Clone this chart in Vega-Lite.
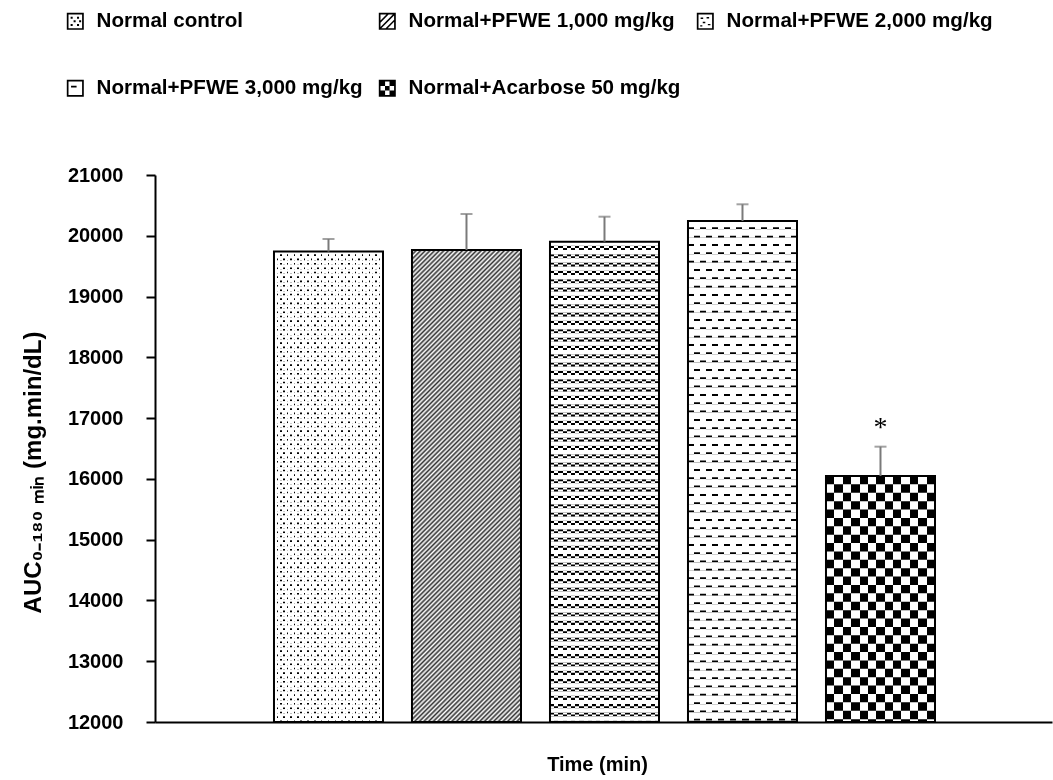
{
  "$schema": "https://vega.github.io/schema/vega-lite/v6.json",
  "autosize": {"type": "none"},
  "width": 897,
  "height": 547,
  "padding": {"left": 155, "top": 175, "right": 1, "bottom": 58},
  "background": "white",
  "config": {"view": {"stroke": null}, "font": "Liberation Sans"},
  "data": {"values": [
    {"group": "Normal control", "value": 19740, "upper": 19947},
    {"group": "Normal+PFWE 1,000 mg/kg", "value": 19766, "upper": 20358},
    {"group": "Normal+PFWE 2,000 mg/kg", "value": 19903, "upper": 20314},
    {"group": "Normal+PFWE 3,000 mg/kg", "value": 20243, "upper": 20518},
    {"group": "Normal+Acarbose 50 mg/kg", "value": 16048, "upper": 16530, "star": "*"}
  ]},
  "encoding": {
    "x": {"field": "group", "type": "nominal",
      "scale": {"domain": ["Normal control", "Normal+PFWE 1,000 mg/kg", "Normal+PFWE 2,000 mg/kg", "Normal+PFWE 3,000 mg/kg", "Normal+Acarbose 50 mg/kg"], "paddingInner": 0.21, "paddingOuter": 0.855, "align": 0.5042},
      "axis": {"labels": false, "ticks": false, "domainColor": "#000", "domainWidth": 2, "title": "Time (min)", "titleFont": "Liberation Sans", "titleFontSize": 20, "titleFontWeight": "bold", "titleColor": "#000", "titlePadding": 32, "titleX": 442}},
    "y": {"field": "value", "type": "quantitative",
      "scale": {"domain": [12000, 21000], "nice": false, "zero": false},
      "axis": {"values": [12000, 13000, 14000, 15000, 16000, 17000, 18000, 19000, 20000, 21000], "format": "d", "grid": false, "domainColor": "#000", "domainWidth": 2, "tickColor": "#000", "tickWidth": 2, "tickSize": 9, "labelPadding": 23, "labelFont": "Liberation Sans", "labelFontSize": 20, "labelFontWeight": "bold", "labelColor": "#000", "title": "AUC₀₋₁₈₀ ₘᵢₙ (mg.min/dL)", "titleFont": "Liberation Sans", "titleFontSize": 24, "titleFontWeight": "bold", "titleColor": "#000", "titleAngle": -90, "titleX": -122, "titleY": 297, "titleAlign": "center", "titleBaseline": "middle"}}
  },
  "layer": [
    {"transform": [{"filter": "datum.group === 'Normal control'"}],
     "mark": {"type": "bar", "stroke": null, "fill": {"gradient": "linear", "x1": 0, "y1": 0, "x2": 1, "y2": 0, "stops": [
       {"offset": 0, "color": "#fff"}, {"offset": 0.0239, "color": "#fff"}, {"offset": 0.0239, "color": "#000"}, {"offset": 0.0377, "color": "#000"}, {"offset": 0.0377, "color": "#fff"},
       {"offset": 0.0864, "color": "#fff"}, {"offset": 0.0864, "color": "#000"}, {"offset": 0.1002, "color": "#000"}, {"offset": 0.1002, "color": "#fff"},
       {"offset": 0.1489, "color": "#fff"}, {"offset": 0.1489, "color": "#000"}, {"offset": 0.1627, "color": "#000"}, {"offset": 0.1627, "color": "#fff"},
       {"offset": 0.2114, "color": "#fff"}, {"offset": 0.2114, "color": "#000"}, {"offset": 0.2252, "color": "#000"}, {"offset": 0.2252, "color": "#fff"},
       {"offset": 0.2739, "color": "#fff"}, {"offset": 0.2739, "color": "#000"}, {"offset": 0.2877, "color": "#000"}, {"offset": 0.2877, "color": "#fff"},
       {"offset": 0.3364, "color": "#fff"}, {"offset": 0.3364, "color": "#000"}, {"offset": 0.3502, "color": "#000"}, {"offset": 0.3502, "color": "#fff"},
       {"offset": 0.3989, "color": "#fff"}, {"offset": 0.3989, "color": "#000"}, {"offset": 0.4127, "color": "#000"}, {"offset": 0.4127, "color": "#fff"},
       {"offset": 0.4614, "color": "#fff"}, {"offset": 0.4614, "color": "#000"}, {"offset": 0.4752, "color": "#000"}, {"offset": 0.4752, "color": "#fff"},
       {"offset": 0.5239, "color": "#fff"}, {"offset": 0.5239, "color": "#000"}, {"offset": 0.5377, "color": "#000"}, {"offset": 0.5377, "color": "#fff"},
       {"offset": 0.5864, "color": "#fff"}, {"offset": 0.5864, "color": "#000"}, {"offset": 0.6002, "color": "#000"}, {"offset": 0.6002, "color": "#fff"},
       {"offset": 0.6489, "color": "#fff"}, {"offset": 0.6489, "color": "#000"}, {"offset": 0.6627, "color": "#000"}, {"offset": 0.6627, "color": "#fff"},
       {"offset": 0.7114, "color": "#fff"}, {"offset": 0.7114, "color": "#000"}, {"offset": 0.7252, "color": "#000"}, {"offset": 0.7252, "color": "#fff"},
       {"offset": 0.7739, "color": "#fff"}, {"offset": 0.7739, "color": "#000"}, {"offset": 0.7877, "color": "#000"}, {"offset": 0.7877, "color": "#fff"},
       {"offset": 0.8364, "color": "#fff"}, {"offset": 0.8364, "color": "#000"}, {"offset": 0.8502, "color": "#000"}, {"offset": 0.8502, "color": "#fff"},
       {"offset": 0.8989, "color": "#fff"}, {"offset": 0.8989, "color": "#000"}, {"offset": 0.9127, "color": "#000"}, {"offset": 0.9127, "color": "#fff"},
       {"offset": 0.9614, "color": "#fff"}, {"offset": 0.9614, "color": "#000"}, {"offset": 0.9752, "color": "#000"}, {"offset": 0.9752, "color": "#fff"},
       {"offset": 1, "color": "#fff"}]}},
     "encoding": {"y2": {"datum": 12000}}},
    {"transform": [{"filter": "datum.group === 'Normal control'"}],
     "mark": {"type": "rule", "color": "#fff", "strokeWidth": 109, "strokeDash": [4.4, 4.4], "blend": "difference"},
     "encoding": {"y2": {"datum": 12000}}},
    {"transform": [{"filter": "datum.group === 'Normal control'"}],
     "mark": {"type": "rule", "color": "#fff", "strokeWidth": 109, "strokeDash": [2.6, 1.8]},
     "encoding": {"y2": {"datum": 12000}}},
    {"transform": [{"filter": "datum.group === 'Normal control'"}],
     "mark": {"type": "bar", "stroke": null, "fill": {"gradient": "linear", "x1": 0, "y1": 0, "x2": 1, "y2": 0, "stops": [
       {"offset": 0, "color": "#fff"}, {"offset": 0.0239, "color": "#fff"}, {"offset": 0.0239, "color": "rgba(255,255,255,0)"}, {"offset": 0.0377, "color": "rgba(255,255,255,0)"}, {"offset": 0.0377, "color": "#fff"},
       {"offset": 0.0552, "color": "#fff"}, {"offset": 0.0552, "color": "rgba(255,255,255,0)"}, {"offset": 0.069, "color": "rgba(255,255,255,0)"}, {"offset": 0.069, "color": "#fff"},
       {"offset": 0.0864, "color": "#fff"}, {"offset": 0.0864, "color": "rgba(255,255,255,0)"}, {"offset": 0.1002, "color": "rgba(255,255,255,0)"}, {"offset": 0.1002, "color": "#fff"},
       {"offset": 0.1177, "color": "#fff"}, {"offset": 0.1177, "color": "rgba(255,255,255,0)"}, {"offset": 0.1315, "color": "rgba(255,255,255,0)"}, {"offset": 0.1315, "color": "#fff"},
       {"offset": 0.1489, "color": "#fff"}, {"offset": 0.1489, "color": "rgba(255,255,255,0)"}, {"offset": 0.1627, "color": "rgba(255,255,255,0)"}, {"offset": 0.1627, "color": "#fff"},
       {"offset": 0.1802, "color": "#fff"}, {"offset": 0.1802, "color": "rgba(255,255,255,0)"}, {"offset": 0.194, "color": "rgba(255,255,255,0)"}, {"offset": 0.194, "color": "#fff"},
       {"offset": 0.2114, "color": "#fff"}, {"offset": 0.2114, "color": "rgba(255,255,255,0)"}, {"offset": 0.2252, "color": "rgba(255,255,255,0)"}, {"offset": 0.2252, "color": "#fff"},
       {"offset": 0.2427, "color": "#fff"}, {"offset": 0.2427, "color": "rgba(255,255,255,0)"}, {"offset": 0.2565, "color": "rgba(255,255,255,0)"}, {"offset": 0.2565, "color": "#fff"},
       {"offset": 0.2739, "color": "#fff"}, {"offset": 0.2739, "color": "rgba(255,255,255,0)"}, {"offset": 0.2877, "color": "rgba(255,255,255,0)"}, {"offset": 0.2877, "color": "#fff"},
       {"offset": 0.3052, "color": "#fff"}, {"offset": 0.3052, "color": "rgba(255,255,255,0)"}, {"offset": 0.319, "color": "rgba(255,255,255,0)"}, {"offset": 0.319, "color": "#fff"},
       {"offset": 0.3364, "color": "#fff"}, {"offset": 0.3364, "color": "rgba(255,255,255,0)"}, {"offset": 0.3502, "color": "rgba(255,255,255,0)"}, {"offset": 0.3502, "color": "#fff"},
       {"offset": 0.3677, "color": "#fff"}, {"offset": 0.3677, "color": "rgba(255,255,255,0)"}, {"offset": 0.3815, "color": "rgba(255,255,255,0)"}, {"offset": 0.3815, "color": "#fff"},
       {"offset": 0.3989, "color": "#fff"}, {"offset": 0.3989, "color": "rgba(255,255,255,0)"}, {"offset": 0.4127, "color": "rgba(255,255,255,0)"}, {"offset": 0.4127, "color": "#fff"},
       {"offset": 0.4302, "color": "#fff"}, {"offset": 0.4302, "color": "rgba(255,255,255,0)"}, {"offset": 0.444, "color": "rgba(255,255,255,0)"}, {"offset": 0.444, "color": "#fff"},
       {"offset": 0.4614, "color": "#fff"}, {"offset": 0.4614, "color": "rgba(255,255,255,0)"}, {"offset": 0.4752, "color": "rgba(255,255,255,0)"}, {"offset": 0.4752, "color": "#fff"},
       {"offset": 0.4927, "color": "#fff"}, {"offset": 0.4927, "color": "rgba(255,255,255,0)"}, {"offset": 0.5065, "color": "rgba(255,255,255,0)"}, {"offset": 0.5065, "color": "#fff"},
       {"offset": 0.5239, "color": "#fff"}, {"offset": 0.5239, "color": "rgba(255,255,255,0)"}, {"offset": 0.5377, "color": "rgba(255,255,255,0)"}, {"offset": 0.5377, "color": "#fff"},
       {"offset": 0.5552, "color": "#fff"}, {"offset": 0.5552, "color": "rgba(255,255,255,0)"}, {"offset": 0.569, "color": "rgba(255,255,255,0)"}, {"offset": 0.569, "color": "#fff"},
       {"offset": 0.5864, "color": "#fff"}, {"offset": 0.5864, "color": "rgba(255,255,255,0)"}, {"offset": 0.6002, "color": "rgba(255,255,255,0)"}, {"offset": 0.6002, "color": "#fff"},
       {"offset": 0.6177, "color": "#fff"}, {"offset": 0.6177, "color": "rgba(255,255,255,0)"}, {"offset": 0.6315, "color": "rgba(255,255,255,0)"}, {"offset": 0.6315, "color": "#fff"},
       {"offset": 0.6489, "color": "#fff"}, {"offset": 0.6489, "color": "rgba(255,255,255,0)"}, {"offset": 0.6627, "color": "rgba(255,255,255,0)"}, {"offset": 0.6627, "color": "#fff"},
       {"offset": 0.6802, "color": "#fff"}, {"offset": 0.6802, "color": "rgba(255,255,255,0)"}, {"offset": 0.694, "color": "rgba(255,255,255,0)"}, {"offset": 0.694, "color": "#fff"},
       {"offset": 0.7114, "color": "#fff"}, {"offset": 0.7114, "color": "rgba(255,255,255,0)"}, {"offset": 0.7252, "color": "rgba(255,255,255,0)"}, {"offset": 0.7252, "color": "#fff"},
       {"offset": 0.7427, "color": "#fff"}, {"offset": 0.7427, "color": "rgba(255,255,255,0)"}, {"offset": 0.7565, "color": "rgba(255,255,255,0)"}, {"offset": 0.7565, "color": "#fff"},
       {"offset": 0.7739, "color": "#fff"}, {"offset": 0.7739, "color": "rgba(255,255,255,0)"}, {"offset": 0.7877, "color": "rgba(255,255,255,0)"}, {"offset": 0.7877, "color": "#fff"},
       {"offset": 0.8052, "color": "#fff"}, {"offset": 0.8052, "color": "rgba(255,255,255,0)"}, {"offset": 0.819, "color": "rgba(255,255,255,0)"}, {"offset": 0.819, "color": "#fff"},
       {"offset": 0.8364, "color": "#fff"}, {"offset": 0.8364, "color": "rgba(255,255,255,0)"}, {"offset": 0.8502, "color": "rgba(255,255,255,0)"}, {"offset": 0.8502, "color": "#fff"},
       {"offset": 0.8677, "color": "#fff"}, {"offset": 0.8677, "color": "rgba(255,255,255,0)"}, {"offset": 0.8815, "color": "rgba(255,255,255,0)"}, {"offset": 0.8815, "color": "#fff"},
       {"offset": 0.8989, "color": "#fff"}, {"offset": 0.8989, "color": "rgba(255,255,255,0)"}, {"offset": 0.9127, "color": "rgba(255,255,255,0)"}, {"offset": 0.9127, "color": "#fff"},
       {"offset": 0.9302, "color": "#fff"}, {"offset": 0.9302, "color": "rgba(255,255,255,0)"}, {"offset": 0.944, "color": "rgba(255,255,255,0)"}, {"offset": 0.944, "color": "#fff"},
       {"offset": 0.9614, "color": "#fff"}, {"offset": 0.9614, "color": "rgba(255,255,255,0)"}, {"offset": 0.9752, "color": "rgba(255,255,255,0)"}, {"offset": 0.9752, "color": "#fff"},
       {"offset": 1, "color": "#fff"}]}},
     "encoding": {"y2": {"datum": 12000}}},
    {"transform": [{"filter": "datum.group === 'Normal+PFWE 1,000 mg/kg'"}],
     "mark": {"type": "bar", "stroke": null, "fill": {"gradient": "linear", "x1": 0, "y1": 0, "x2": 0.26987, "y2": 1.16862, "stops": [
       {"offset": 0, "color": "#333"}, {"offset": 0.004, "color": "#fff"}, {"offset": 0.008, "color": "#333"}, {"offset": 0.012, "color": "#fff"}, {"offset": 0.016, "color": "#333"}, {"offset": 0.02, "color": "#fff"}, {"offset": 0.024, "color": "#333"}, {"offset": 0.028, "color": "#fff"}, {"offset": 0.032, "color": "#333"}, {"offset": 0.036, "color": "#fff"}, {"offset": 0.04, "color": "#333"}, {"offset": 0.044, "color": "#fff"}, {"offset": 0.048, "color": "#333"}, {"offset": 0.052, "color": "#fff"}, {"offset": 0.056, "color": "#333"}, {"offset": 0.06, "color": "#fff"}, {"offset": 0.064, "color": "#333"}, {"offset": 0.068, "color": "#fff"}, {"offset": 0.072, "color": "#333"}, {"offset": 0.076, "color": "#fff"}, {"offset": 0.08, "color": "#333"}, {"offset": 0.084, "color": "#fff"}, {"offset": 0.088, "color": "#333"}, {"offset": 0.092, "color": "#fff"}, {"offset": 0.096, "color": "#333"},
       {"offset": 0.1, "color": "#fff"}, {"offset": 0.104, "color": "#333"}, {"offset": 0.108, "color": "#fff"}, {"offset": 0.112, "color": "#333"}, {"offset": 0.116, "color": "#fff"}, {"offset": 0.12, "color": "#333"}, {"offset": 0.124, "color": "#fff"}, {"offset": 0.128, "color": "#333"}, {"offset": 0.132, "color": "#fff"}, {"offset": 0.136, "color": "#333"}, {"offset": 0.14, "color": "#fff"}, {"offset": 0.144, "color": "#333"}, {"offset": 0.148, "color": "#fff"}, {"offset": 0.152, "color": "#333"}, {"offset": 0.156, "color": "#fff"}, {"offset": 0.16, "color": "#333"}, {"offset": 0.164, "color": "#fff"}, {"offset": 0.168, "color": "#333"}, {"offset": 0.172, "color": "#fff"}, {"offset": 0.176, "color": "#333"}, {"offset": 0.18, "color": "#fff"}, {"offset": 0.184, "color": "#333"}, {"offset": 0.188, "color": "#fff"}, {"offset": 0.192, "color": "#333"}, {"offset": 0.196, "color": "#fff"},
       {"offset": 0.2, "color": "#333"}, {"offset": 0.204, "color": "#fff"}, {"offset": 0.208, "color": "#333"}, {"offset": 0.212, "color": "#fff"}, {"offset": 0.216, "color": "#333"}, {"offset": 0.22, "color": "#fff"}, {"offset": 0.224, "color": "#333"}, {"offset": 0.228, "color": "#fff"}, {"offset": 0.232, "color": "#333"}, {"offset": 0.236, "color": "#fff"}, {"offset": 0.24, "color": "#333"}, {"offset": 0.244, "color": "#fff"}, {"offset": 0.248, "color": "#333"}, {"offset": 0.252, "color": "#fff"}, {"offset": 0.256, "color": "#333"}, {"offset": 0.26, "color": "#fff"}, {"offset": 0.264, "color": "#333"}, {"offset": 0.268, "color": "#fff"}, {"offset": 0.272, "color": "#333"}, {"offset": 0.276, "color": "#fff"}, {"offset": 0.28, "color": "#333"}, {"offset": 0.284, "color": "#fff"}, {"offset": 0.288, "color": "#333"}, {"offset": 0.292, "color": "#fff"}, {"offset": 0.296, "color": "#333"},
       {"offset": 0.3, "color": "#fff"}, {"offset": 0.304, "color": "#333"}, {"offset": 0.308, "color": "#fff"}, {"offset": 0.312, "color": "#333"}, {"offset": 0.316, "color": "#fff"}, {"offset": 0.32, "color": "#333"}, {"offset": 0.324, "color": "#fff"}, {"offset": 0.328, "color": "#333"}, {"offset": 0.332, "color": "#fff"}, {"offset": 0.336, "color": "#333"}, {"offset": 0.34, "color": "#fff"}, {"offset": 0.344, "color": "#333"}, {"offset": 0.348, "color": "#fff"}, {"offset": 0.352, "color": "#333"}, {"offset": 0.356, "color": "#fff"}, {"offset": 0.36, "color": "#333"}, {"offset": 0.364, "color": "#fff"}, {"offset": 0.368, "color": "#333"}, {"offset": 0.372, "color": "#fff"}, {"offset": 0.376, "color": "#333"}, {"offset": 0.38, "color": "#fff"}, {"offset": 0.384, "color": "#333"}, {"offset": 0.388, "color": "#fff"}, {"offset": 0.392, "color": "#333"}, {"offset": 0.396, "color": "#fff"},
       {"offset": 0.4, "color": "#333"}, {"offset": 0.404, "color": "#fff"}, {"offset": 0.408, "color": "#333"}, {"offset": 0.412, "color": "#fff"}, {"offset": 0.416, "color": "#333"}, {"offset": 0.42, "color": "#fff"}, {"offset": 0.424, "color": "#333"}, {"offset": 0.428, "color": "#fff"}, {"offset": 0.432, "color": "#333"}, {"offset": 0.436, "color": "#fff"}, {"offset": 0.44, "color": "#333"}, {"offset": 0.444, "color": "#fff"}, {"offset": 0.448, "color": "#333"}, {"offset": 0.452, "color": "#fff"}, {"offset": 0.456, "color": "#333"}, {"offset": 0.46, "color": "#fff"}, {"offset": 0.464, "color": "#333"}, {"offset": 0.468, "color": "#fff"}, {"offset": 0.472, "color": "#333"}, {"offset": 0.476, "color": "#fff"}, {"offset": 0.48, "color": "#333"}, {"offset": 0.484, "color": "#fff"}, {"offset": 0.488, "color": "#333"}, {"offset": 0.492, "color": "#fff"}, {"offset": 0.496, "color": "#333"},
       {"offset": 0.5, "color": "#fff"}, {"offset": 0.504, "color": "#333"}, {"offset": 0.508, "color": "#fff"}, {"offset": 0.512, "color": "#333"}, {"offset": 0.516, "color": "#fff"}, {"offset": 0.52, "color": "#333"}, {"offset": 0.524, "color": "#fff"}, {"offset": 0.528, "color": "#333"}, {"offset": 0.532, "color": "#fff"}, {"offset": 0.536, "color": "#333"}, {"offset": 0.54, "color": "#fff"}, {"offset": 0.544, "color": "#333"}, {"offset": 0.548, "color": "#fff"}, {"offset": 0.552, "color": "#333"}, {"offset": 0.556, "color": "#fff"}, {"offset": 0.56, "color": "#333"}, {"offset": 0.564, "color": "#fff"}, {"offset": 0.568, "color": "#333"}, {"offset": 0.572, "color": "#fff"}, {"offset": 0.576, "color": "#333"}, {"offset": 0.58, "color": "#fff"}, {"offset": 0.584, "color": "#333"}, {"offset": 0.588, "color": "#fff"}, {"offset": 0.592, "color": "#333"}, {"offset": 0.596, "color": "#fff"},
       {"offset": 0.6, "color": "#333"}, {"offset": 0.604, "color": "#fff"}, {"offset": 0.608, "color": "#333"}, {"offset": 0.612, "color": "#fff"}, {"offset": 0.616, "color": "#333"}, {"offset": 0.62, "color": "#fff"}, {"offset": 0.624, "color": "#333"}, {"offset": 0.628, "color": "#fff"}, {"offset": 0.632, "color": "#333"}, {"offset": 0.636, "color": "#fff"}, {"offset": 0.64, "color": "#333"}, {"offset": 0.644, "color": "#fff"}, {"offset": 0.648, "color": "#333"}, {"offset": 0.652, "color": "#fff"}, {"offset": 0.656, "color": "#333"}, {"offset": 0.66, "color": "#fff"}, {"offset": 0.664, "color": "#333"}, {"offset": 0.668, "color": "#fff"}, {"offset": 0.672, "color": "#333"}, {"offset": 0.676, "color": "#fff"}, {"offset": 0.68, "color": "#333"}, {"offset": 0.684, "color": "#fff"}, {"offset": 0.688, "color": "#333"}, {"offset": 0.692, "color": "#fff"}, {"offset": 0.696, "color": "#333"},
       {"offset": 0.7, "color": "#fff"}, {"offset": 0.704, "color": "#333"}, {"offset": 0.708, "color": "#fff"}, {"offset": 0.712, "color": "#333"}, {"offset": 0.716, "color": "#fff"}, {"offset": 0.72, "color": "#333"}, {"offset": 0.724, "color": "#fff"}, {"offset": 0.728, "color": "#333"}, {"offset": 0.732, "color": "#fff"}, {"offset": 0.736, "color": "#333"}, {"offset": 0.74, "color": "#fff"}, {"offset": 0.744, "color": "#333"}, {"offset": 0.748, "color": "#fff"}, {"offset": 0.752, "color": "#333"}, {"offset": 0.756, "color": "#fff"}, {"offset": 0.76, "color": "#333"}, {"offset": 0.764, "color": "#fff"}, {"offset": 0.768, "color": "#333"}, {"offset": 0.772, "color": "#fff"}, {"offset": 0.776, "color": "#333"}, {"offset": 0.78, "color": "#fff"}, {"offset": 0.784, "color": "#333"}, {"offset": 0.788, "color": "#fff"}, {"offset": 0.792, "color": "#333"}, {"offset": 0.796, "color": "#fff"},
       {"offset": 0.8, "color": "#333"}, {"offset": 0.804, "color": "#fff"}, {"offset": 0.808, "color": "#333"}, {"offset": 0.812, "color": "#fff"}, {"offset": 0.816, "color": "#333"}, {"offset": 0.82, "color": "#fff"}, {"offset": 0.824, "color": "#333"}, {"offset": 0.828, "color": "#fff"}, {"offset": 0.832, "color": "#333"}, {"offset": 0.836, "color": "#fff"}, {"offset": 0.84, "color": "#333"}, {"offset": 0.844, "color": "#fff"}, {"offset": 0.848, "color": "#333"}, {"offset": 0.852, "color": "#fff"}, {"offset": 0.856, "color": "#333"}, {"offset": 0.86, "color": "#fff"}, {"offset": 0.864, "color": "#333"}, {"offset": 0.868, "color": "#fff"}, {"offset": 0.872, "color": "#333"}, {"offset": 0.876, "color": "#fff"}, {"offset": 0.88, "color": "#333"}, {"offset": 0.884, "color": "#fff"}, {"offset": 0.888, "color": "#333"}, {"offset": 0.892, "color": "#fff"}, {"offset": 0.896, "color": "#333"},
       {"offset": 0.9, "color": "#fff"}, {"offset": 0.904, "color": "#333"}, {"offset": 0.908, "color": "#fff"}, {"offset": 0.912, "color": "#333"}, {"offset": 0.916, "color": "#fff"}, {"offset": 0.92, "color": "#333"}, {"offset": 0.924, "color": "#fff"}, {"offset": 0.928, "color": "#333"}, {"offset": 0.932, "color": "#fff"}, {"offset": 0.936, "color": "#333"}, {"offset": 0.94, "color": "#fff"}, {"offset": 0.944, "color": "#333"}, {"offset": 0.948, "color": "#fff"}, {"offset": 0.952, "color": "#333"}, {"offset": 0.956, "color": "#fff"}, {"offset": 0.96, "color": "#333"}, {"offset": 0.964, "color": "#fff"}, {"offset": 0.968, "color": "#333"}, {"offset": 0.972, "color": "#fff"}, {"offset": 0.976, "color": "#333"}, {"offset": 0.98, "color": "#fff"}, {"offset": 0.984, "color": "#333"}, {"offset": 0.988, "color": "#fff"}, {"offset": 0.992, "color": "#333"}, {"offset": 0.996, "color": "#fff"},
       {"offset": 1, "color": "#333"}]}},
     "encoding": {"y2": {"datum": 12000}}},
    {"transform": [{"filter": "datum.group === 'Normal+PFWE 2,000 mg/kg'"}],
     "mark": {"type": "bar", "stroke": null, "fill": {"gradient": "linear", "x1": 0, "y1": 0, "x2": 1, "y2": 0, "stops": [
       {"offset": 0, "color": "#fff"}, {"offset": 0.0385, "color": "#fff"}, {"offset": 0.0385, "color": "#000"}, {"offset": 0.0769, "color": "#000"}, {"offset": 0.0769, "color": "#fff"}, {"offset": 0.1154, "color": "#fff"}, {"offset": 0.1154, "color": "#000"}, {"offset": 0.1538, "color": "#000"}, {"offset": 0.1538, "color": "#fff"},
       {"offset": 0.1923, "color": "#fff"}, {"offset": 0.1923, "color": "#000"}, {"offset": 0.2308, "color": "#000"}, {"offset": 0.2308, "color": "#fff"}, {"offset": 0.2692, "color": "#fff"}, {"offset": 0.2692, "color": "#000"}, {"offset": 0.3077, "color": "#000"}, {"offset": 0.3077, "color": "#fff"},
       {"offset": 0.3462, "color": "#fff"}, {"offset": 0.3462, "color": "#000"}, {"offset": 0.3846, "color": "#000"}, {"offset": 0.3846, "color": "#fff"}, {"offset": 0.4231, "color": "#fff"}, {"offset": 0.4231, "color": "#000"}, {"offset": 0.4615, "color": "#000"}, {"offset": 0.4615, "color": "#fff"},
       {"offset": 0.5, "color": "#fff"}, {"offset": 0.5, "color": "#000"}, {"offset": 0.5385, "color": "#000"}, {"offset": 0.5385, "color": "#fff"}, {"offset": 0.5769, "color": "#fff"}, {"offset": 0.5769, "color": "#000"}, {"offset": 0.6154, "color": "#000"}, {"offset": 0.6154, "color": "#fff"},
       {"offset": 0.6538, "color": "#fff"}, {"offset": 0.6538, "color": "#000"}, {"offset": 0.6923, "color": "#000"}, {"offset": 0.6923, "color": "#fff"}, {"offset": 0.7308, "color": "#fff"}, {"offset": 0.7308, "color": "#000"}, {"offset": 0.7692, "color": "#000"}, {"offset": 0.7692, "color": "#fff"},
       {"offset": 0.8077, "color": "#fff"}, {"offset": 0.8077, "color": "#000"}, {"offset": 0.8462, "color": "#000"}, {"offset": 0.8462, "color": "#fff"}, {"offset": 0.8846, "color": "#fff"}, {"offset": 0.8846, "color": "#000"}, {"offset": 0.9231, "color": "#000"}, {"offset": 0.9231, "color": "#fff"},
       {"offset": 0.9615, "color": "#fff"}, {"offset": 0.9615, "color": "#000"}, {"offset": 1, "color": "#000"}]}},
     "encoding": {"y2": {"datum": 12000}}},
    {"transform": [{"filter": "datum.group === 'Normal+PFWE 2,000 mg/kg'"}],
     "mark": {"type": "rule", "color": "#fff", "strokeWidth": 109, "strokeDash": [2.083, 2.083], "blend": "difference"},
     "encoding": {"y2": {"datum": 12000}}},
    {"transform": [{"filter": "datum.group === 'Normal+PFWE 2,000 mg/kg'"}],
     "mark": {"type": "rule", "color": "#fff", "strokeWidth": 109, "strokeDash": [4.166, 4.166]},
     "encoding": {"y2": {"datum": 12000}}},
    {"transform": [{"filter": "datum.group === 'Normal+PFWE 3,000 mg/kg'"}],
     "mark": {"type": "bar", "stroke": null, "fill": {"gradient": "linear", "x1": 0, "y1": 0, "x2": 1, "y2": 0, "stops": [
       {"offset": 0, "color": "#fff"}, {"offset": 0.0556, "color": "#fff"}, {"offset": 0.0556, "color": "#000"}, {"offset": 0.1111, "color": "#000"}, {"offset": 0.1111, "color": "#fff"}, {"offset": 0.1667, "color": "#fff"}, {"offset": 0.1667, "color": "#000"}, {"offset": 0.2222, "color": "#000"}, {"offset": 0.2222, "color": "#fff"},
       {"offset": 0.2778, "color": "#fff"}, {"offset": 0.2778, "color": "#000"}, {"offset": 0.3333, "color": "#000"}, {"offset": 0.3333, "color": "#fff"}, {"offset": 0.3889, "color": "#fff"}, {"offset": 0.3889, "color": "#000"}, {"offset": 0.4444, "color": "#000"}, {"offset": 0.4444, "color": "#fff"},
       {"offset": 0.5, "color": "#fff"}, {"offset": 0.5, "color": "#000"}, {"offset": 0.5556, "color": "#000"}, {"offset": 0.5556, "color": "#fff"}, {"offset": 0.6111, "color": "#fff"}, {"offset": 0.6111, "color": "#000"}, {"offset": 0.6667, "color": "#000"}, {"offset": 0.6667, "color": "#fff"},
       {"offset": 0.7222, "color": "#fff"}, {"offset": 0.7222, "color": "#000"}, {"offset": 0.7778, "color": "#000"}, {"offset": 0.7778, "color": "#fff"}, {"offset": 0.8333, "color": "#fff"}, {"offset": 0.8333, "color": "#000"}, {"offset": 0.8889, "color": "#000"}, {"offset": 0.8889, "color": "#fff"},
       {"offset": 0.9444, "color": "#fff"}, {"offset": 0.9444, "color": "#000"}, {"offset": 1, "color": "#000"}]}},
     "encoding": {"y2": {"datum": 12000}}},
    {"transform": [{"filter": "datum.group === 'Normal+PFWE 3,000 mg/kg'"}],
     "mark": {"type": "rule", "color": "#fff", "strokeWidth": 109, "strokeDash": [8.33, 8.33], "blend": "difference"},
     "encoding": {"y2": {"datum": 12000}}},
    {"transform": [{"filter": "datum.group === 'Normal+PFWE 3,000 mg/kg'"}],
     "mark": {"type": "rule", "color": "#fff", "strokeWidth": 109, "strokeDash": [6.33, 2]},
     "encoding": {"y2": {"datum": 12000}}},
    {"transform": [{"filter": "datum.group === 'Normal+Acarbose 50 mg/kg'"}],
     "mark": {"type": "bar", "stroke": null, "fill": {"gradient": "linear", "x1": 0, "y1": 0, "x2": 1, "y2": 0, "stops": [
       {"offset": 0, "color": "#fff"}, {"offset": 0.0769, "color": "#fff"}, {"offset": 0.0769, "color": "#000"}, {"offset": 0.1538, "color": "#000"}, {"offset": 0.1538, "color": "#fff"}, {"offset": 0.2308, "color": "#fff"}, {"offset": 0.2308, "color": "#000"}, {"offset": 0.3077, "color": "#000"}, {"offset": 0.3077, "color": "#fff"},
       {"offset": 0.3846, "color": "#fff"}, {"offset": 0.3846, "color": "#000"}, {"offset": 0.4615, "color": "#000"}, {"offset": 0.4615, "color": "#fff"}, {"offset": 0.5385, "color": "#fff"}, {"offset": 0.5385, "color": "#000"}, {"offset": 0.6154, "color": "#000"}, {"offset": 0.6154, "color": "#fff"},
       {"offset": 0.6923, "color": "#fff"}, {"offset": 0.6923, "color": "#000"}, {"offset": 0.7692, "color": "#000"}, {"offset": 0.7692, "color": "#fff"}, {"offset": 0.8462, "color": "#fff"}, {"offset": 0.8462, "color": "#000"}, {"offset": 0.9231, "color": "#000"}, {"offset": 0.9231, "color": "#fff"},
       {"offset": 1, "color": "#fff"}]}},
     "encoding": {"y2": {"datum": 12000}}},
    {"transform": [{"filter": "datum.group === 'Normal+Acarbose 50 mg/kg'"}],
     "mark": {"type": "rule", "color": "#fff", "strokeWidth": 109, "strokeDash": [8.385, 8.385], "blend": "difference"},
     "encoding": {"y2": {"datum": 12000}}},
    {"mark": {"type": "bar", "fill": null, "fillOpacity": 0, "stroke": "#000", "strokeWidth": 2},
     "encoding": {"y2": {"datum": 12000}}},
    {"mark": {"type": "rule", "color": "#7a7a7a", "strokeWidth": 2},
     "encoding": {"y2": {"field": "upper"}}},
    {"mark": {"type": "tick", "orient": "horizontal", "color": "#7a7a7a", "size": 12, "thickness": 2},
     "encoding": {"y": {"field": "upper", "type": "quantitative"}}},
    {"transform": [{"filter": "datum.star"}],
     "mark": {"type": "text", "font": "Liberation Serif", "fontSize": 28, "color": "#000", "baseline": "alphabetic", "dy": -11},
     "encoding": {"y": {"field": "upper", "type": "quantitative"}, "text": {"field": "star"}}},
    {"mark": {"type": "point", "filled": true, "color": "#000", "opacity": 0},
     "encoding": {"shape": {"field": "group", "type": "nominal",
       "scale": {"domain": ["Normal control", "Normal+PFWE 1,000 mg/kg", "Normal+PFWE 2,000 mg/kg", "Normal+PFWE 3,000 mg/kg", "Normal+Acarbose 50 mg/kg"],
         "range": [
           "M-1,-1H1V1H-1Z M-0.8,-0.8V0.8H0.8V-0.8Z M-0.55,-0.55h0.24v0.24h-0.24Z M0.2,-0.55h0.24v0.24h-0.24Z M-0.2,-0.12h0.24v0.24h-0.24Z M0.45,-0.12h0.24v0.24h-0.24Z M-0.55,0.32h0.24v0.24h-0.24Z M0.2,0.32h0.24v0.24h-0.24Z",
           "M-1,-1H1V1H-1Z M-0.8,-0.8V0.8H0.8V-0.8Z M-0.8,-0.1L-0.1,-0.8L0.15,-0.8L-0.8,0.15Z M-0.8,0.65L0.65,-0.8L0.8,-0.8L0.8,-0.7L-0.7,0.8L-0.8,0.8Z M-0.2,0.8L0.8,-0.2L0.8,0.05L0.05,0.8Z",
           "M-1,-1H1V1H-1Z M-0.8,-0.8V0.8H0.8V-0.8Z M-0.55,-0.45h0.3v0.16h-0.3Z M0.15,-0.5h0.3v0.16h-0.3Z M-0.3,0.05h0.3v0.16h-0.3Z M0.3,0.3h0.3v0.16h-0.3Z M-0.6,0.45h0.25v0.16h-0.25Z",
           "M-1,-1H1V1H-1Z M-0.8,-0.8V0.8H0.8V-0.8Z M-0.5,-0.3h0.65v0.22h-0.65Z",
           "M-1,-1H1V1H-1Z M-0.8,-0.8V0.8H0.8V-0.8Z M-0.8,-0.8h0.54v0.54h-0.54Z M0.26,-0.8h0.54v0.54h-0.54Z M-0.27,-0.27h0.54v0.54h-0.54Z M-0.8,0.26h0.54v0.54h-0.54Z M0.26,0.26h0.54v0.54h-0.54Z"
         ]},
       "legend": {"title": null, "orient": "none", "legendX": -90, "legendY": -164, "direction": "horizontal", "columns": 3, "gridAlign": "each", "padding": 0,
         "symbolSize": 289, "symbolFillColor": "#000", "symbolStrokeWidth": 0, "symbolOpacity": 1,
         "labelFont": "Liberation Sans", "labelFontSize": 20.6, "labelFontWeight": "bold", "labelColor": "#000", "labelOffset": 11, "labelLimit": 0,
         "columnPadding": 14, "rowPadding": 46}}}}
  ]
}
